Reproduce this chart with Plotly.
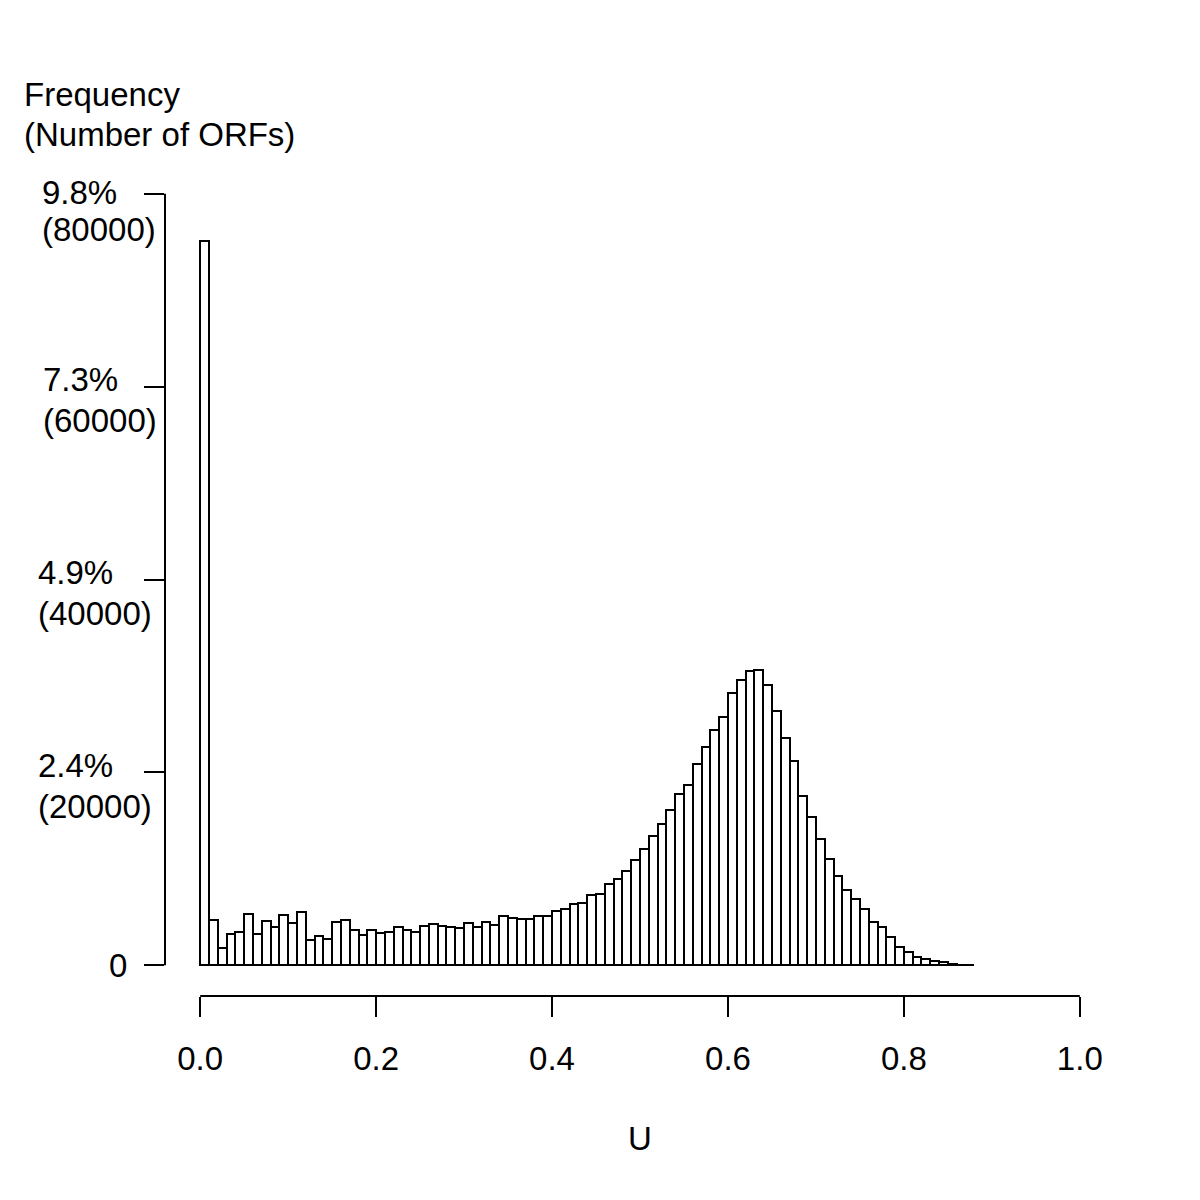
import plotly.graph_objects as go

# ---- data ----
bin_width = 0.01
bin_left = [round(i * bin_width, 2) for i in range(88)]
counts = [
    75100, 4660, 1830, 3180, 3450, 5280, 3180, 4590, 3970, 5210,
    4380, 5560, 2660, 3000, 2760, 4450, 4730, 3630, 3140, 3630,
    3350, 3450, 3950, 3630, 3490, 4080, 4320, 4080, 3970, 3900,
    4420, 3970, 4520, 4210, 5080, 4840, 4770, 4770, 5080, 5150,
    5630, 5870, 6350, 6460, 7320, 7390, 8460, 8910, 9810, 10910,
    12050, 13370, 14680, 16060, 17720, 18720, 20830, 22660, 24350, 25730,
    28190, 29610, 30470, 30640, 29050, 26320, 23520, 21170, 17550, 15410,
    13090, 10980, 9220, 7770, 6870, 5840, 4490, 3940, 2870, 1870,
    1380, 860, 620, 450, 280, 100, 30, 10,
]
x_ticks = [0.0, 0.2, 0.4, 0.6, 0.8, 1.0]
x_tick_labels = ["0.0", "0.2", "0.4", "0.6", "0.8", "1.0"]
y_ticks = [0, 20000, 40000, 60000, 80000]
y_pct_labels = ["", "2.4%", "4.9%", "7.3%", "9.8%"]
y_count_labels = ["0", "(20000)", "(40000)", "(60000)", "(80000)"]

# ---- layout geometry ----
PAGE_OFF = 8  # default body margin of the html page
W, H = 1200, 1200
PW, PH = 950, 833
ML = 165 - PAGE_OFF
MT = 163 - PAGE_OFF
MR = W - ML - PW
MB = H - MT - PH
xr = [-0.04, 1.04]
yr = [-3200, 83200]
FONT = "Liberation Sans, Arial, sans-serif"
FS = 33


def px2paper_x(px):
    # px: screen pixel in the reference picture
    return (px - PAGE_OFF - ML) / PW


def px2paper_y(py):
    return (MT + PH - (py - PAGE_OFF)) / PH


def data2paper_x(v):
    return (v - xr[0]) / (xr[1] - xr[0])


def data2paper_y(v):
    return (v - yr[0]) / (yr[1] - yr[0])


centers = [b + bin_width / 2 for b in bin_left]

fig = go.Figure(
    go.Bar(
        x=centers,
        y=counts,
        width=bin_width,
        marker=dict(color="white", line=dict(color="black", width=2)),
        hoverinfo="x+y",
    )
)

annotations = []
# y tick labels (two lines, left aligned)
lx1 = [109, 38.3, 38.3, 42.7, 41.7]
for i, v in enumerate(y_ticks):
    if i == 0:
        annotations.append(dict(x=px2paper_x(109 - 2), xref="paper", xanchor="left",
                                y=v, yref="y", yanchor="middle", yshift=0,
                                text=y_count_labels[i], showarrow=False))
        continue
    top = (i == len(y_ticks) - 1)
    s1 = 1 if top else 7
    s2 = -36 if top else -34
    annotations.append(dict(x=px2paper_x(lx1[i] - 2), xref="paper", xanchor="left",
                            y=v, yref="y", yanchor="middle", yshift=s1,
                            text=y_pct_labels[i], showarrow=False))
    annotations.append(dict(x=px2paper_x(lx1[i] - 2), xref="paper", xanchor="left",
                            y=v, yref="y", yanchor="middle", yshift=s2,
                            text=y_count_labels[i], showarrow=False))

# y title
annotations.append(dict(x=px2paper_x(22), xref="paper", xanchor="left",
                        y=px2paper_y(95), yref="paper", yanchor="middle",
                        text="Frequency", showarrow=False))
annotations.append(dict(x=px2paper_x(22), xref="paper", xanchor="left",
                        y=px2paper_y(134), yref="paper", yanchor="middle",
                        text="(Number of ORFs)", showarrow=False))
# x title
annotations.append(dict(x=0.5, xref="paper", xanchor="center",
                        y=px2paper_y(1138), yref="paper", yanchor="middle",
                        text="U", showarrow=False))

shapes = [
    # x axis line from 0 to 1
    dict(type="line", xref="paper", yref="paper",
         x0=data2paper_x(0), x1=data2paper_x(1), y0=0, y1=0,
         line=dict(color="black", width=2)),
    # y axis line from 0 to 80000
    dict(type="line", xref="paper", yref="paper",
         x0=0, x1=0, y0=data2paper_y(0), y1=data2paper_y(80000),
         line=dict(color="black", width=2)),
]

fig.update_layout(
    width=W, height=H,
    margin=dict(l=ML, r=MR, t=MT, b=MB, autoexpand=False),
    paper_bgcolor="white", plot_bgcolor="white",
    font=dict(family=FONT, size=FS, color="black"),
    showlegend=False,
    bargap=0,
    annotations=annotations,
    shapes=shapes,
    xaxis=dict(range=xr, showgrid=False, zeroline=False, showline=False,
               ticks="outside", ticklen=20, tickwidth=2, tickcolor="black",
               tickvals=x_ticks, ticktext=x_tick_labels,
               ticklabelstandoff=13,
               tickfont=dict(family=FONT, size=FS, color="black")),
    yaxis=dict(range=yr, showgrid=False, zeroline=False, showline=False,
               ticks="outside", ticklen=20, tickwidth=2, tickcolor="black",
               tickvals=y_ticks, showticklabels=False),
)

fig.write_html("out.html")
